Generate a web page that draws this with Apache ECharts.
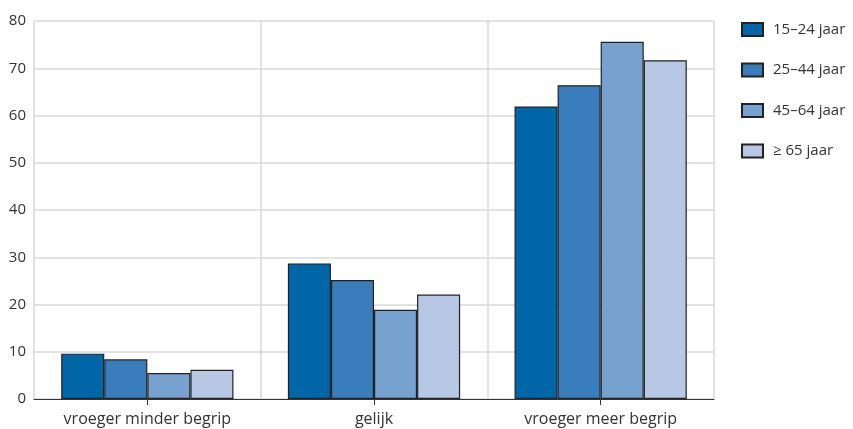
<!DOCTYPE html>
<html><head><meta charset="utf-8">
<script src="https://cdn.jsdelivr.net/npm/echarts@6/dist/echarts.min.js"></script>
<style>html,body{margin:0;padding:0;background:#fff}#c{width:853px;height:429px}</style>
</head><body><div id="c"></div>
<script>
const categories = ['vroeger minder begrip', 'gelijk', 'vroeger meer begrip'];
const seriesNames = ['15\u201324 jaar', '25\u201344 jaar', '45\u201364 jaar', '\u2265 65 jaar'];
const s1524 = [9.6, 28.7, 61.9];
const s2544 = [8.4, 25.2, 66.4];
const s4564 = [5.5, 18.9, 75.6];
const s65 = [6.2, 22.1, 71.7];
const yTicks = { min: 0, max: 80, interval: 10 };

const colors = ['#0066a8', '#3a7dbd', '#77a1cf', '#b7c8e4'];
const values = [s1524, s2544, s4564, s65];
const font = '"Open Sans", "Noto Sans", sans-serif';

const chart = echarts.init(document.getElementById('c'));
chart.setOption({
  animation: false,
  textStyle: { fontFamily: font },
  grid: { left: 34, right: 139, top: 21, bottom: 30, containLabel: false },
  legend: {
    orient: 'vertical', left: 741, top: 22, padding: 0,
    itemWidth: 21, itemHeight: 13, itemGap: 25.5,
    icon: 'rect',
    textStyle: { fontSize: 15, color: '#333', fontFamily: font, padding: [0, 0, 0, 5] },
    data: seriesNames
  },
  xAxis: {
    type: 'category', data: categories,
    axisLine: { lineStyle: { color: '#333', width: 1 } },
    axisTick: { show: true, alignWithLabel: true, length: 6, lineStyle: { color: '#333' } },
    axisLabel: { fontSize: 16, color: '#333', margin: 12, fontFamily: font },
    splitLine: { show: true, lineStyle: { color: '#d9d9d9', width: 1.5 } }
  },
  yAxis: {
    type: 'value', min: yTicks.min, max: yTicks.max, interval: yTicks.interval,
    axisLine: { show: false },
    axisTick: { show: false },
    axisLabel: { fontSize: 15, color: '#333', margin: 8, fontFamily: font },
    splitLine: { lineStyle: { color: '#d9d9d9', width: 1.5 } }
  },
  series: seriesNames.map((n, i) => ({
    name: n, type: 'bar', data: values[i],
    barGap: '0%', barCategoryGap: '24%',
    itemStyle: { color: colors[i], borderColor: '#222', borderWidth: 1.2 }
  }))
});
</script></body></html>
